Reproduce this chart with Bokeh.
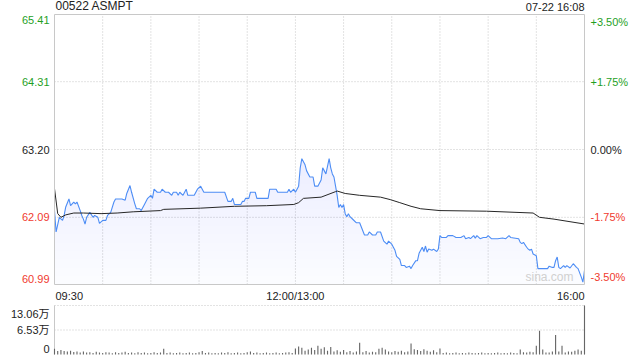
import numpy as np
from bokeh.plotting import figure
from bokeh.models import Range1d, Label
from bokeh.layouts import column
from bokeh.embed import file_html
from bokeh.resources import INLINE

# ---------------- data ----------------
title_text = "00522 ASMPT"
stamp_text = "07-22 16:08"
prev_close = 63.20
price_levels = [60.99, 62.09, 63.20, 64.31, 65.41]
price_labels = ["60.99", "62.09", "63.20", "64.31", "65.41"]
pct_labels = ["-3.50%", "-1.75%", "0.00%", "+1.75%", "+3.50%"]
session_end = 330          # trading minutes from 09:30 to 16:00
grid_step = 30             # vertical grid every 30 trading minutes
time_ticks = [0, 150, 330]
time_labels = ["09:30", "12:00/13:00", "16:00"]

# trading minute index (0 = 09:30, 150 = 12:00/13:00, 330 = 16:00)
price_min = [0, 1, 3, 5, 6, 7, 9, 10, 12, 13, 14, 16, 17, 18, 19, 20, 22, 24, 25, 27,
             28, 30, 32, 33, 35, 37, 38, 42, 44, 45, 47, 48, 50, 51, 53, 54, 55, 56, 58, 60,
             61, 62, 64, 66, 67, 69, 71, 73, 74, 76, 77, 78, 80, 82, 83, 87, 89, 91, 92, 93,
             99, 106, 108, 110, 111, 112, 116, 117, 118, 119, 121, 122, 125, 126, 133, 134, 138, 139, 145, 146,
             147, 149, 150, 152, 153, 154, 156, 157, 159, 161, 162, 164, 166, 167, 168, 169, 171, 172, 173, 174,
             175, 176, 177, 178, 179, 180, 181, 182, 183, 184, 186, 188, 190, 193, 195, 196, 198, 200, 201, 203,
             205, 207, 208, 210, 212, 213, 215, 216, 218, 219, 221, 222, 223, 225, 226, 227, 229, 230, 231, 232,
             233, 235, 236, 238, 239, 240, 241, 244, 245, 248, 250, 253, 255, 256, 258, 259, 261, 262, 263, 265,
             267, 269, 270, 272, 276, 279, 281, 283, 284, 289, 290, 291, 292, 294, 295, 296, 297, 298, 300, 301,
             304, 307, 308, 310, 311, 312, 313, 314, 315, 317, 318, 319, 321, 323, 325, 326, 328, 329, 330]
price = [62.20, 61.85, 62.09, 62.04, 62.12, 62.26, 62.39, 62.28, 62.34, 62.31, 62.34, 62.20, 62.12, 62.06, 61.98, 62.09, 62.17, 62.09, 62.12, 62.09,
         61.99, 62.04, 62.04, 62.12, 62.17, 62.34, 62.39, 62.39, 62.37, 62.48, 62.61, 62.50, 62.31, 62.23, 62.23, 62.20, 62.25, 62.30, 62.40, 62.45,
         62.40, 62.55, 62.50, 62.50, 62.55, 62.50, 62.50, 62.45, 62.50, 62.50, 62.45, 62.50, 62.45, 62.55, 62.45, 62.45, 62.55, 62.60, 62.55, 62.50,
         62.50, 62.50, 62.35, 62.35, 62.40, 62.30, 62.30, 62.35, 62.35, 62.40, 62.40, 62.50, 62.50, 62.40, 62.40, 62.55, 62.55, 62.50, 62.50, 62.55,
         62.50, 62.55, 62.50, 62.60, 62.90, 63.05, 62.95, 62.85, 62.75, 62.75, 62.60, 62.60, 62.70, 62.90, 62.85, 62.80, 63.05, 62.90, 62.80, 62.75,
         62.60, 62.45, 62.25, 62.30, 62.25, 62.30, 62.15, 62.10, 62.15, 62.10, 62.05, 62.00, 62.00, 61.80, 61.80, 61.85, 61.80, 61.80, 61.85, 61.85,
         61.70, 61.65, 61.70, 61.65, 61.55, 61.45, 61.40, 61.30, 61.30, 61.27, 61.29, 61.25, 61.30, 61.38, 61.38, 61.50, 61.60, 61.53, 61.62, 61.52,
         61.57, 61.55, 61.57, 61.53, 61.57, 61.79, 61.76, 61.76, 61.79, 61.79, 61.76, 61.76, 61.79, 61.74, 61.76, 61.74, 61.79, 61.75, 61.79, 61.74,
         61.76, 61.76, 61.79, 61.74, 61.74, 61.75, 61.74, 61.79, 61.76, 61.74, 61.68, 61.66, 61.68, 61.60, 61.57, 61.55, 61.57, 61.49, 61.46, 61.25,
         61.25, 61.25, 61.29, 61.27, 61.27, 61.38, 61.44, 61.27, 61.25, 61.30, 61.27, 61.30, 61.26, 61.33, 61.27, 61.25, 61.11, 61.03, 61.22]

avg_min = [0, 2, 4, 7, 12, 18, 29, 39, 49, 66, 68, 91, 112, 132, 149, 152, 155, 166, 175, 176,
           181, 190, 203, 209, 215, 222, 228, 240, 269, 298, 302, 311, 330]
avg_price = [62.56, 62.15, 62.09, 62.13, 62.16, 62.16, 62.15, 62.16, 62.18, 62.20, 62.22, 62.24, 62.27, 62.28, 62.30, 62.33, 62.40, 62.42, 62.51, 62.52,
             62.48, 62.45, 62.42, 62.38, 62.33, 62.27, 62.23, 62.20, 62.19, 62.16, 62.09, 62.06, 61.98]

# volume in 万 shares, one bar every 2 trading minutes (0, 2, ..., 330)
vol_max = 13.06
vol_levels = [0, 6.53, 13.06]
vol_labels = ["0", "6.53万", "13.06万"]
volume = [1.5, 0.9, 1.2, 0.9, 0.8, 1.0, 0.65, 0.8, 0.5, 0.8, 0.5, 0.6, 0.4, 0.7, 0.5, 0.4, 0.6, 0.5, 0.3, 0.6,
          0.4, 0.5, 0.7, 0.4, 0.5, 0.3, 0.6, 0.4, 0.5, 0.3, 0.4, 0.6, 0.4, 0.5, 1.5, 0.4, 0.5, 0.3, 0.4, 0.5,
          0.3, 0.4, 0.5, 0.3, 0.4, 0.6, 0.9, 0.4, 0.5, 0.3, 0.4, 0.3, 0.5, 0.4, 0.6, 0.3, 0.4, 0.5, 0.3, 0.4,
          0.6, 0.8, 0.4, 0.5, 0.3, 0.4, 0.5, 0.3, 0.4, 0.5, 0.3, 0.4, 0.5, 0.6, 0.4, 1.6, 2.1, 1.8, 1.0, 1.3,
          1.8, 1.2, 2.3, 1.5, 1.9, 1.0, 2.0, 0.8, 1.1, 0.7, 1.2, 0.6, 0.9, 0.5, 0.8, 3.1, 0.6, 0.9, 0.5, 0.7,
          0.6, 1.5, 1.8, 1.3, 0.8, 0.6, 0.9, 0.7, 1.0, 0.6, 0.8, 2.9, 1.4, 1.2, 0.9, 1.4, 1.0, 0.7, 1.1, 0.6,
          1.6, 0.4, 0.5, 0.3, 0.4, 0.5, 0.3, 0.4, 0.3, 0.5, 0.4, 0.3, 0.4, 0.5, 0.3, 0.4, 0.3, 0.4, 0.5, 0.3,
          0.4, 0.3, 0.5, 0.4, 0.3, 1.3, 0.6, 0.5, 0.7, 0.6, 2.3, 6.3, 1.3, 0.5, 0.5, 0.8, 5.2, 0.8, 2.3, 0.5,
          0.8, 0.7, 1.0, 1.3, 1.0, 13.06]

# ---------------- layout (pixels) ----------------
W = 640
PH, VH = 300, 60                      # price canvas / volume canvas heights
PL, PR = 54, 584                      # plot left / right edge
PT, PB = 14, 284                      # price plot top / bottom
VT, VB = 5, 54                        # volume plot top / bottom (inside its canvas)

FONT = "Liberation Sans, Noto Sans CJK SC"
GREEN = "#1f9f1f"
RED = "#f03a2e"
DARK = "#222222"
BLUE = "#4d8df5"
GRID_C = "#c6c6c6"
BORDER_C = "#c8c8c8"

def xr():
    k = (PR - PL) / session_end
    return Range1d(-PL / k, session_end + (W - PR) / k)

lo, hi = price_levels[0], price_levels[-1]
ky = (PB - PT) / (hi - lo)
p = figure(width=W, height=PH, x_range=xr(),
           y_range=Range1d(lo - (PH - PB) / ky, hi + PT / ky),
           x_axis_location=None, y_axis_location=None,
           toolbar_location=None, output_backend="svg",
           min_border=0, outline_line_color=None,
           background_fill_color="white", border_fill_color="white")
p.grid.visible = False

t = np.array(price_min, dtype=float)
pr = np.array(price, dtype=float)

# grid (dotted)
gx = list(range(grid_step, session_end, grid_step))
p.segment(x0=gx, x1=gx, y0=[lo] * len(gx), y1=[hi] * len(gx),
          line_color=GRID_C, line_dash="1 2", line_width=1)
gy = price_levels[1:-1]
p.segment(x0=[0] * len(gy), x1=[session_end] * len(gy), y0=gy, y1=gy,
          line_color=GRID_C, line_dash="1 2", line_width=1)

# gradient area under the price line
layers = np.linspace(lo, pr.max(), 16)
for i, lv in enumerate(layers):
    p.varea(x=t, y1=np.full_like(pr, lv), y2=np.maximum(pr, lv),
            fill_color=BLUE, fill_alpha=0.025 if i == 0 else 0.0085)

p.add_layout(Label(x=session_end, y=lo, x_offset=-11, y_offset=1, text="sina.com", text_align="right",
                   text_baseline="bottom", text_color="#d0d0d0", text_font=FONT, text_font_size="12px"))

p.line(t, pr, line_color=BLUE, line_width=1.1)
p.line(avg_min, avg_price, line_color="#262626", line_width=1)

# frame border
p.quad(left=[0], right=[session_end], bottom=[lo], top=[hi], fill_color=None,
       line_color=BORDER_C, line_width=1)

def level_color(v):
    if abs(v - prev_close) < 1e-6:
        return DARK
    return GREEN if v > prev_close else RED

for v, lab, pct in zip(price_levels, price_labels, pct_labels):
    c = level_color(v)
    if v == hi:
        bl, yoff = "top", -1
    elif v == lo:
        bl, yoff = "bottom", 2
    else:
        bl, yoff = "middle", 0
    p.add_layout(Label(x=0, y=v, x_offset=-5, y_offset=yoff, text=lab, text_align="right",
                       text_baseline=bl, text_color=c, text_font=FONT, text_font_size="11px"))
    p.add_layout(Label(x=session_end, y=v, x_offset=6, y_offset=yoff, text=pct, text_align="left",
                       text_baseline=bl, text_color=c, text_font=FONT, text_font_size="11px"))

for tk, lab, al in zip(time_ticks, time_labels, ["left", "center", "right"]):
    p.add_layout(Label(x=tk, y=lo, x_offset=1 if al == "left" else 0, y_offset=-5, text=lab,
                       text_align=al, text_baseline="top",
                       text_color=DARK, text_font=FONT, text_font_size="11px"))

p.add_layout(Label(x=0, y=hi, x_offset=1, y_offset=2, text=title_text, text_align="left",
                   text_baseline="bottom", text_color=DARK, text_font=FONT, text_font_size="12px"))
p.add_layout(Label(x=session_end, y=hi, y_offset=2, text=stamp_text, text_align="right",
                   text_baseline="bottom", text_color=DARK, text_font=FONT, text_font_size="11px"))

# ---------------- volume ----------------
kv = (VB - VT) / vol_max
v = figure(width=W, height=VH, x_range=xr(),
           y_range=Range1d(-(VH - VB) / kv, vol_max + VT / kv),
           x_axis_location=None, y_axis_location=None,
           toolbar_location=None, output_backend="svg",
           min_border=0, outline_line_color=None,
           background_fill_color="white", border_fill_color="white")
v.grid.visible = False
vt = np.arange(len(volume)) * 2
v.segment(x0=[0, 0], x1=[session_end, session_end], y0=vol_levels[1:], y1=vol_levels[1:],
          line_color=GRID_C, line_dash="1 2", line_width=1)
v.segment(x0=[0, session_end], x1=[0, session_end], y0=[0, 0], y1=[vol_max, vol_max],
          line_color=BORDER_C, line_width=1)
v.vbar(x=vt, top=volume, bottom=0, width=0.7, fill_color="#666666", line_color=None)
for val, lab in zip(vol_levels, vol_labels):
    if val == 0:
        bl, yoff = "bottom", 2
    elif val == vol_max:
        bl, yoff = "top", -2
    else:
        bl, yoff = "middle", 0
    v.add_layout(Label(x=0, y=val, x_offset=-5, y_offset=yoff, text=lab, text_align="right",
                       text_baseline=bl, text_color=DARK, text_font=FONT, text_font_size="11px"))

layout = column(p, v)
open("out.html", "w").write(file_html(layout, INLINE))
